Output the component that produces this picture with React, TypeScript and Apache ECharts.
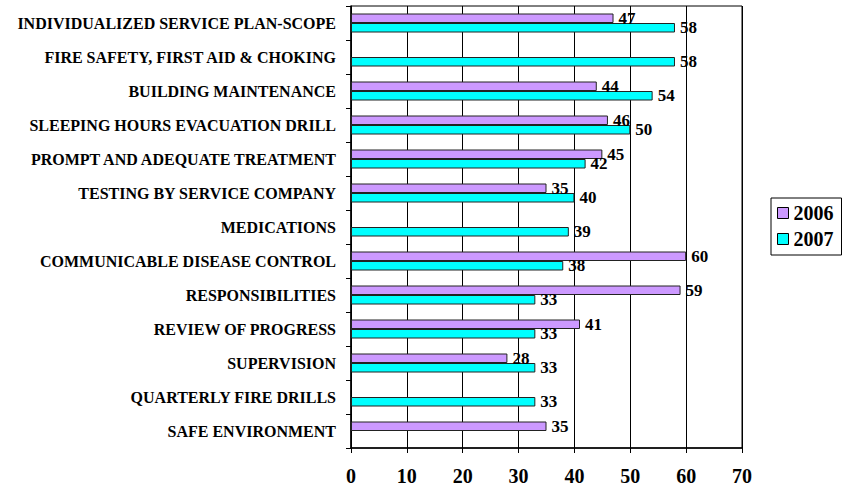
import React, { useEffect, useRef } from "react";
import * as echarts from "echarts";

const categories = [
  "INDIVIDUALIZED SERVICE PLAN-SCOPE",
  "FIRE SAFETY, FIRST AID & CHOKING",
  "BUILDING MAINTENANCE",
  "SLEEPING HOURS EVACUATION DRILL",
  "PROMPT AND ADEQUATE TREATMENT",
  "TESTING BY SERVICE COMPANY",
  "MEDICATIONS",
  "COMMUNICABLE DISEASE CONTROL",
  "RESPONSIBILITIES",
  "REVIEW OF PROGRESS",
  "SUPERVISION",
  "QUARTERLY FIRE DRILLS",
  "SAFE ENVIRONMENT",
];

const values2006: (number | null)[] = [47, null, 44, 46, 45, 35, null, 60, 59, 41, 28, null, 35];
const values2007: (number | null)[] = [58, 58, 54, 50, 42, 40, 39, 38, 33, 33, 33, 33, null];

const xTicks = { min: 0, max: 70, interval: 10 };

const FONT = "'Liberation Serif', 'Times New Roman', serif";

export default function App() {
  const ref = useRef<HTMLDivElement>(null);
  useEffect(() => {
    document.body.style.margin = "0";
    if (!ref.current) return;
    const chart = echarts.init(ref.current, null, { renderer: "svg" });
    const labelStyle = {
      show: true,
      position: "right" as const,
      distance: 5,
      fontFamily: FONT,
      fontWeight: "bold" as const,
      fontSize: 17,
      color: "#000",
      formatter: (p: any) => (p.value == null ? "" : String(p.value)),
    };
    chart.setOption({
      animation: false,
      backgroundColor: "#fff",
      grid: {
        left: 351,
        right: 103,
        top: 6,
        bottom: 41,
        show: true,
        borderColor: "#000",
        borderWidth: 1,
        containLabel: false,
      },
      legend: {
        orient: "vertical",
        left: 771,
        top: 198,
        data: ["2006", "2007"],
        icon: "rect",
        itemWidth: 11,
        itemHeight: 11,
        itemGap: 6,
        borderColor: "#000",
        borderWidth: 1,
        padding: [5, 8, 6, 6],
        itemStyle: { borderColor: "#000", borderWidth: 1 },
        textStyle: { fontFamily: FONT, fontWeight: "bold", fontSize: 20, color: "#000" },
      },
      xAxis: {
        type: "value",
        min: xTicks.min,
        max: xTicks.max,
        interval: xTicks.interval,
        axisLine: { show: true, lineStyle: { color: "#000", width: 1.5 } },
        axisTick: { show: true, length: 5, lineStyle: { color: "#000" } },
        splitLine: { show: true, lineStyle: { color: "#000", width: 1 } },
        axisLabel: {
          margin: 18,
          fontFamily: FONT,
          fontWeight: "bold",
          fontSize: 20,
          color: "#000",
        },
      },
      yAxis: {
        type: "category",
        inverse: true,
        data: categories,
        axisLine: { show: true, lineStyle: { color: "#000", width: 1.5 } },
        axisTick: { show: true, length: 5, lineStyle: { color: "#000" } },
        axisLabel: {
          margin: 15,
          fontFamily: FONT,
          fontWeight: "bold",
          fontSize: 16,
          color: "#000",
        },
      },
      series: [
        {
          name: "2006",
          type: "bar",
          data: values2006,
          barWidth: 9.5,
          barGap: "0%",
          itemStyle: { color: "#CC99FF", borderColor: "#222", borderWidth: 1 },
          label: labelStyle,
        },
        {
          name: "2007",
          type: "bar",
          data: values2007,
          barWidth: 9.5,
          barGap: "0%",
          itemStyle: { color: "#00FFFF", borderColor: "#222", borderWidth: 1 },
          label: labelStyle,
        },
      ],
    });
    return () => chart.dispose();
  }, []);
  return <div ref={ref} style={{ width: 845, height: 489 }} />;
}
